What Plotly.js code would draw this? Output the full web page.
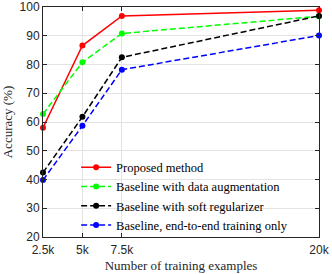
<!DOCTYPE html>
<html><head><meta charset="utf-8">
<script src="https://cdn.plot.ly/plotly-3.0.1.min.js"></script>
<style>html,body{margin:0;padding:0;background:#fff}#plot{width:332px;height:274px}</style>
</head><body><div id="plot"></div>
<script>
var xVals = [2.5, 5, 7.5, 20];
var xTickText = ['2.5k', '5k', '7.5k', '20k'];
var yTickVals = [20, 30, 40, 50, 60, 70, 80, 90, 100];
var seriesNames = ['Proposed method', 'Baseline with data augmentation', 'Baseline with soft regularizer', 'Baseline, end-to-end training only'];
var proposed = [58.0, 86.6, 96.9, 98.9];
var dataAug = [62.8, 80.8, 90.8, 96.8];
var softReg = [42.4, 61.8, 82.5, 96.9];
var endToEnd = [39.8, 58.7, 78.2, 90.1];
var colors = ['#ff0000', '#00ff00', '#000000', '#0000ff'];
var dashes = ['solid', '6px,3px', '6px,3px', '6px,3px'];
var ys = [proposed, dataAug, softReg, endToEnd];

var serif = "'Liberation Serif', 'Times New Roman', serif";
var sans = "'Liberation Sans', Arial, sans-serif";

var traces = ys.map(function (y, i) {
  return {
    x: xVals, y: y, name: seriesNames[i], type: 'scatter', mode: 'lines+markers',
    line: {color: colors[i], width: 1.5, dash: dashes[i]},
    marker: {color: colors[i], size: 6, symbol: 'circle'},
    cliponaxis: false
  };
});

var axisCommon = {
  showline: true, linecolor: '#262626', linewidth: 1, mirror: 'ticks',
  ticks: 'inside', ticklen: 4, tickcolor: '#262626', tickwidth: 1,
  showgrid: true, gridcolor: '#e3e3e3', gridwidth: 1, zeroline: false,
  ticklabeloverflow: 'allow',
  tickfont: {family: sans, size: 12, color: '#262626'}
};

var layout = {
  width: 332, height: 274,
  margin: {l: 43, r: 13, t: 7, b: 37},
  paper_bgcolor: '#ffffff', plot_bgcolor: '#ffffff',
  xaxis: Object.assign({}, axisCommon, {
    range: [2.5, 20], tickmode: 'array', tickvals: xVals, ticktext: xTickText,
    ticklabelstandoff: 2,
    title: {text: 'Number of training examples', standoff: 4,
      font: {family: serif, size: 13, color: '#262626'}}
  }),
  yaxis: Object.assign({}, axisCommon, {
    range: [19.99, 100.01], tickmode: 'array', tickvals: yTickVals,
    title: {text: 'Accuracy (%)', standoff: 5,
      font: {family: serif, size: 13, color: '#262626'}}
  }),
  legend: {
    x: 0.12, y: 0.178, xanchor: 'left', yanchor: 'middle',
    bgcolor: 'rgba(0,0,0,0)', borderwidth: 0,
    font: {family: serif, size: 12.5, color: '#000000'},
    tracegroupgap: 0
  },
  showlegend: true
};

Plotly.newPlot('plot', traces, layout, {displayModeBar: false, staticPlot: true});
</script>
</body></html>
